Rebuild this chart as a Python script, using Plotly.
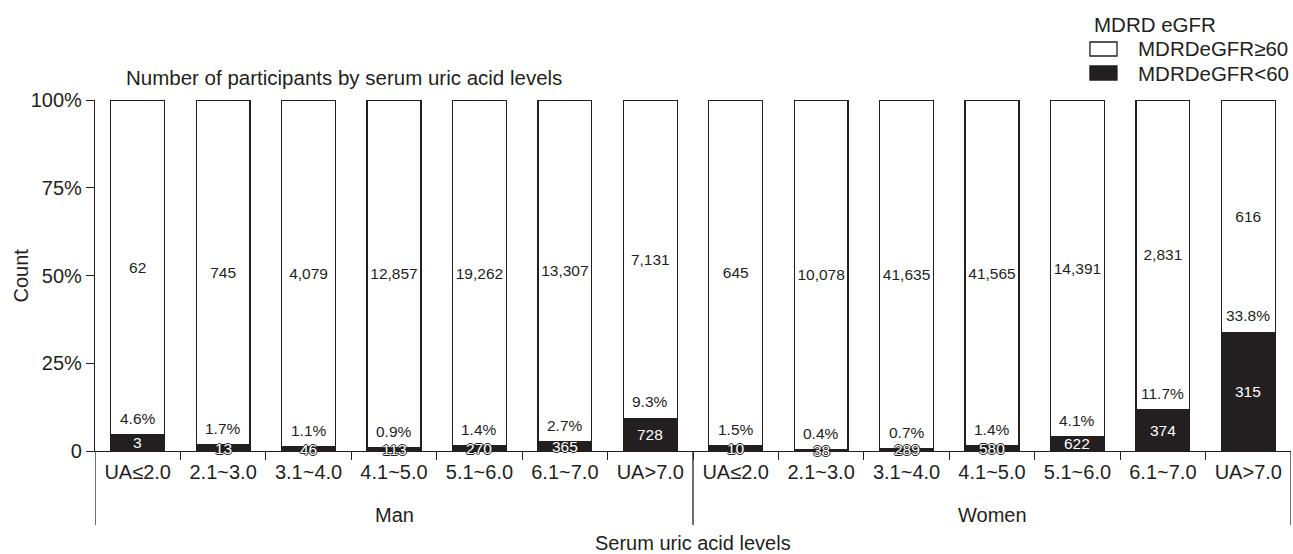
import plotly.graph_objects as go

# Serum uric acid categories within each sex
ua_levels = ["UA≤2.0", "2.1~3.0", "3.1~4.0", "4.1~5.0", "5.1~6.0", "6.1~7.0", "UA>7.0"]
sex_groups = ["Man", "Women"]

# Participant counts by MDRD eGFR class
man_ge60 = [62, 745, 4079, 12857, 19262, 13307, 7131]
man_lt60 = [3, 13, 46, 113, 270, 365, 728]
women_ge60 = [645, 10078, 41635, 41565, 14391, 2831, 616]
women_lt60 = [10, 38, 289, 580, 622, 374, 315]

# Share (%) of eGFR<60 in each category
man_pct_lt60 = [4.6, 1.7, 1.1, 0.9, 1.4, 2.7, 9.3]
women_pct_lt60 = [1.5, 0.4, 0.7, 1.4, 4.1, 11.7, 33.8]

INK = "#231f20"
FONT = "Liberation Sans, Arial, Helvetica, sans-serif"

labels = ua_levels + ua_levels
ge60 = man_ge60 + women_ge60
lt60 = man_lt60 + women_lt60
pct_lt60 = man_pct_lt60 + women_pct_lt60
pct_ge60 = [100 - p for p in pct_lt60]
xpos = list(range(len(labels)))

fig = go.Figure()
fig.add_trace(go.Bar(
    x=xpos, y=pct_lt60, name="MDRDeGFR<60",
    marker=dict(color=INK, line=dict(color=INK, width=1.3)),
    width=0.63, showlegend=False, hoverinfo="skip",
))
fig.add_trace(go.Bar(
    x=xpos, y=pct_ge60, name="MDRDeGFR≥60",
    marker=dict(color="white", line=dict(color=INK, width=1.3)),
    width=0.63, showlegend=False, hoverinfo="skip",
    text=[f"{v:,}" for v in ge60], textposition="inside",
    insidetextanchor="middle", constraintext="none",
    textfont=dict(family=FONT, size=15.5, color=INK),
))

annotations = []
outline = f"1px 0 0 {INK}, -1px 0 0 {INK}, 0 1px 0 {INK}, 0 -1px 0 {INK}"
for i, (p, n) in enumerate(zip(pct_lt60, lt60)):
    # count inside the dark segment
    annotations.append(dict(
        x=i, y=p / 2, xref="x", yref="y", text=f"{n:,}", showarrow=False,
        yanchor="middle", font=dict(family=FONT, size=15.5, color="white", shadow=outline),
    ))
    # share of eGFR<60 just above the dark segment
    annotations.append(dict(
        x=i, y=p, xref="x", yref="y", text=f"{p:.1f}%", showarrow=False,
        yanchor="middle", yshift=16.5, font=dict(family=FONT, size=15.5, color=INK),
    ))

# group labels under the category labels
for g, name in enumerate(sex_groups):
    annotations.append(dict(
        x=g * 7 + 3, y=-0.182, xref="x", yref="paper", text=name, showarrow=False,
        yanchor="middle", font=dict(family=FONT, size=20, color=INK),
    ))
annotations += [
    dict(x=0.5, y=-0.262, xref="paper", yref="paper", text="Serum uric acid levels",
         showarrow=False, yanchor="middle", font=dict(family=FONT, size=20, color=INK)),
    dict(x=-0.0619, y=0.5, xref="paper", yref="paper", text="Count", textangle=-90,
         showarrow=False, xanchor="center", yanchor="middle",
         font=dict(family=FONT, size=20, color=INK)),
    dict(x=0.0242, y=1.0627, xref="paper", yref="paper",
         text="Number of participants by serum uric acid levels", showarrow=False,
         xanchor="left", yanchor="middle", font=dict(family=FONT, size=20.5, color=INK)),
    # legend
    dict(x=0.8336, y=1.2137, xref="paper", yref="paper", text="MDRD eGFR", showarrow=False,
         xanchor="left", yanchor="middle", font=dict(family=FONT, size=20.5, color=INK)),
    dict(x=0.8704, y=1.1453, xref="paper", yref="paper", text="MDRDeGFR≥60", showarrow=False,
         xanchor="left", yanchor="middle", font=dict(family=FONT, size=20.5, color=INK)),
    dict(x=0.8704, y=1.0769, xref="paper", yref="paper", text="MDRDeGFR<60", showarrow=False,
         xanchor="left", yanchor="middle", font=dict(family=FONT, size=20.5, color=INK)),
]

shapes = [
    dict(type="rect", xref="paper", yref="paper", x0=0.8319, x1=0.8545, y0=1.1254, y1=1.1652,
         fillcolor="white", line=dict(color=INK, width=1.3)),
    dict(type="rect", xref="paper", yref="paper", x0=0.8319, x1=0.8545, y0=1.0570, y1=1.0969,
         fillcolor=INK, line=dict(color=INK, width=1.3)),
]
# group dividers on the category axis
for xb in (-0.5, 6.5, 13.5):
    shapes.append(dict(type="line", xref="x", yref="paper", x0=xb, x1=xb, y0=0, y1=-0.211,
                       line=dict(color=INK, width=1.3)))

fig.update_layout(
    barmode="stack",
    width=1293, height=554,
    margin=dict(l=95, r=2, t=100, b=103),
    plot_bgcolor="white", paper_bgcolor="white",
    font=dict(family=FONT, color=INK),
    annotations=annotations, shapes=shapes,
    xaxis=dict(
        range=[-0.5, 13.5], tickmode="array", tickvals=xpos, ticktext=labels,
        # invisible centre ticks only push the labels down; visible ticks sit on boundaries
        ticks="outside", ticklen=3, tickcolor="rgba(0,0,0,0)",
        showline=True, linecolor=INK, linewidth=1.3, showgrid=False, zeroline=False,
        tickfont=dict(family=FONT, size=20, color=INK),
        minor=dict(tickmode="array", tickvals=[i + 0.5 for i in range(13)], ticks="outside",
                   ticklen=8, tickwidth=1.3, tickcolor=INK, showgrid=False),
    ),
    yaxis=dict(
        range=[0, 100], tickmode="array", tickvals=[0, 25, 50, 75, 100],
        ticktext=["0", "25%", "50%", "75%", "100%"], ticks="outside", ticklen=8,
        tickwidth=1.3, tickcolor=INK, showline=True, linecolor=INK, linewidth=1.3,
        showgrid=False, zeroline=False, tickfont=dict(family=FONT, size=20, color=INK),
    ),
)

fig.write_html("out.html")
